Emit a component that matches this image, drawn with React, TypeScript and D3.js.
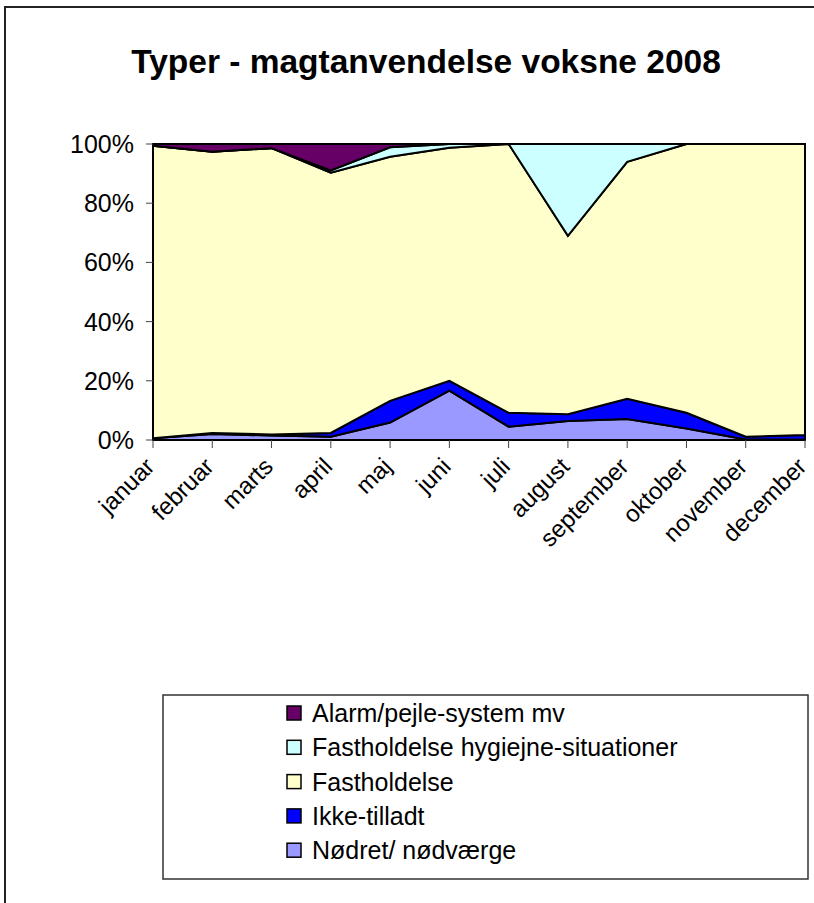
import React from 'react'
import * as d3 from 'd3'

const months = ['januar', 'februar', 'marts', 'april', 'maj', 'juni', 'juli', 'august', 'september', 'oktober', 'november', 'december']

// percent per month
const nodret = [0.6, 2.0, 1.5, 1.1, 5.9, 16.7, 4.5, 6.4, 7.1, 3.9, 0.2, 0.2]
const ikkeTilladt = [0, 0.4, 0.4, 1.3, 7.3, 3.3, 4.7, 2.3, 6.8, 5.3, 0.9, 1.5]
const fastholdelse = [98.8, 95.0, 96.7, 87.9, 82.5, 78.7, 90.8, 60.3, 80.1, 90.8, 98.9, 98.3]
const hygiejne = [0, 0, 0, 0.8, 3.2, 1.3, 0, 31.0, 6.0, 0, 0, 0]
const alarm = [0.6, 2.6, 1.4, 8.9, 1.1, 0, 0, 0, 0, 0, 0, 0]

const seriesNames = ['Nødret/ nødværge', 'Ikke-tilladt', 'Fastholdelse', 'Fastholdelse hygiejne-situationer', 'Alarm/pejle-system mv']
const seriesKeys = ['nodret', 'ikke', 'fast', 'hyg', 'alarm']
const seriesColors = ['#9999FF', '#0000FF', '#FFFFCC', '#CCFFFF', '#660066']
const yTicks = [0, 0.2, 0.4, 0.6, 0.8, 1]

const rows = months.map((m, i) => ({
  month: m,
  nodret: nodret[i],
  ikke: ikkeTilladt[i],
  fast: fastholdelse[i],
  hyg: hygiejne[i],
  alarm: alarm[i]
}))

const font = '"Liberation Sans", Arial, sans-serif'

const App = () => {
  const left = 153
  const right = 805
  const top = 144
  const bottom = 440

  const x = d3.scalePoint().domain(months).range([left, right])
  const y = d3.scaleLinear().domain([0, 1]).range([bottom, top])

  const stacked = d3.stack<any>().keys(seriesKeys).offset(d3.stackOffsetExpand)(rows)

  const area = d3.area<any>()
    .x(d => x(d.data.month) as number)
    .y0(d => y(d[0]))
    .y1(d => y(d[1]))

  // legend is listed top series first
  const legendOrder = [4, 3, 2, 1, 0]

  return (
    <svg width={814} height={903} style={{ position: 'absolute', left: 0, top: 0, background: '#fff' }}>
      <rect x={5} y={7} width={840} height={930} fill='#fff' stroke='#222' strokeWidth={2} />

      <text x={426} y={73} textAnchor='middle' fontFamily={font} fontWeight='bold' fontSize={33.5}>
        Typer - magtanvendelse voksne 2008
      </text>

      {stacked.map((s, i) => (
        <path key={s.key} d={area(s) as string} fill={seriesColors[i]} stroke='#000' strokeWidth={2} strokeLinejoin='miter' />
      ))}

      <line x1={left} x2={left} y1={top} y2={bottom} stroke='#000' strokeWidth={2} />
      <line x1={left} x2={right} y1={bottom} y2={bottom} stroke='#000' strokeWidth={2} />

      {yTicks.map(t => (
        <g key={t}>
          <line x1={left - 7} x2={left} y1={y(t)} y2={y(t)} stroke='#444' strokeWidth={1} />
          <text x={134} y={y(t)} dy='0.36em' textAnchor='end' fontFamily={font} fontSize={25}>
            {d3.format('.0%')(t)}
          </text>
        </g>
      ))}

      {months.map(m => {
        const px = x(m) as number
        return (
          <g key={m}>
            <line x1={px} x2={px} y1={bottom} y2={bottom + 8} stroke='#444' strokeWidth={1} />
            <text
              transform={`translate(${px + 3},${bottom + 28}) rotate(-45)`}
              textAnchor='end'
              fontFamily={font}
              fontSize={24}
            >
              {m}
            </text>
          </g>
        )
      })}

      <rect x={163} y={695} width={645} height={184} fill='#fff' stroke='#333' strokeWidth={1.5} />
      {legendOrder.map((si, i) => {
        const cy = 713 + i * 34.3
        return (
          <g key={seriesKeys[si]}>
            <rect x={287} y={cy - 7} width={14} height={14} fill={seriesColors[si]} stroke='#000' strokeWidth={1.5} />
            <text x={312} y={cy} dy='0.36em' fontFamily={font} fontSize={25}>
              {seriesNames[si]}
            </text>
          </g>
        )
      })}
    </svg>
  )
}

export default App
